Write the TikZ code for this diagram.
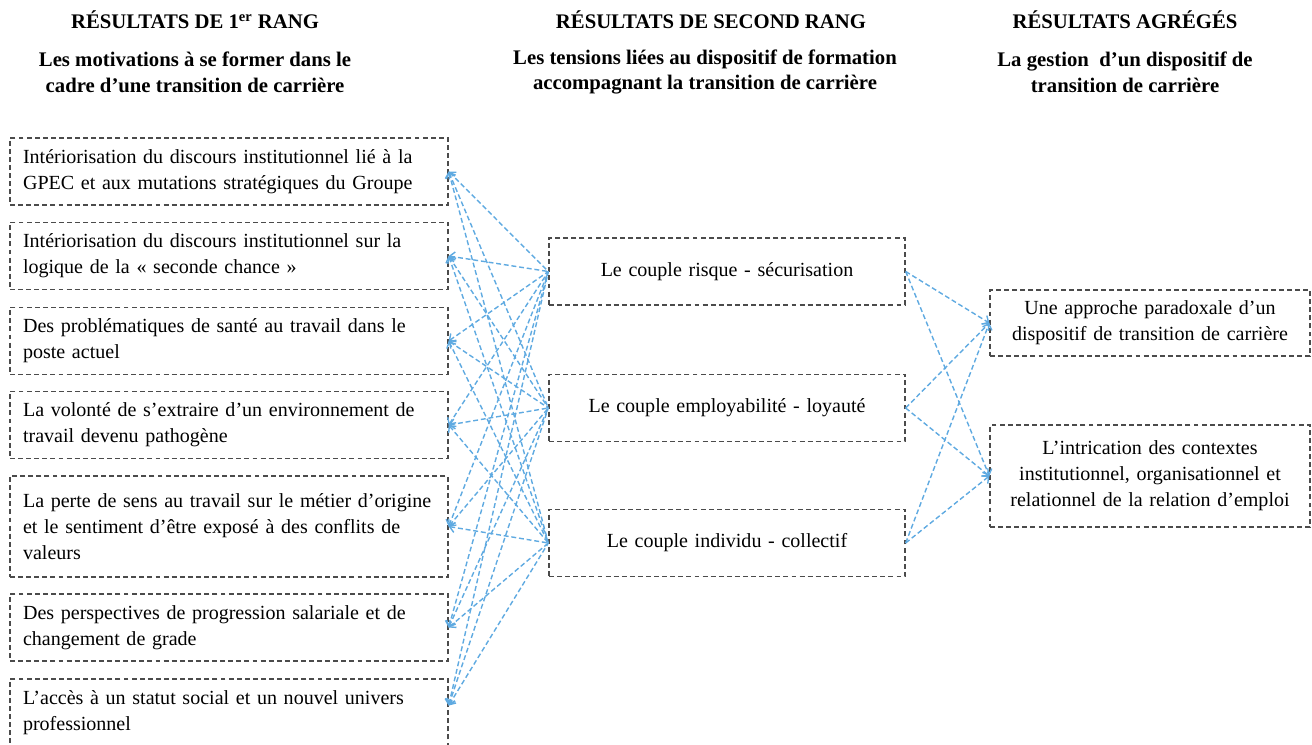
\documentclass[tikz,border=0pt]{standalone}
\usepackage{fontspec}
\setmainfont{Liberation Serif}
\usetikzlibrary{arrows.meta}
\definecolor{lienbleu}{RGB}{95,170,225}
\definecolor{cadregris}{RGB}{75,75,75}
\begin{document}
\begin{tikzpicture}[x=0.02cm, y=-0.02cm,
  cadre/.style={draw=cadregris, line width=0.8pt, dash pattern=on 2.8pt off 1.8pt,
    inner xsep=0.26cm, font=\fontsize{11.4}{14.7}\selectfont},
  gauche/.style={cadre, minimum width=8.76cm, minimum height=1.34cm, text width=8.24cm, align=left},
  milieu/.style={cadre, minimum width=7.12cm, minimum height=1.34cm, text width=6.6cm, align=center},
  droite/.style={cadre, minimum width=6.4cm, minimum height=1.32cm, text width=5.88cm, align=center},
  titre/.style={font=\bfseries\fontsize{11.8}{14}\selectfont},
  soustitre/.style={font=\bfseries\fontsize{11.8}{14.7}\selectfont, align=center},
  lien/.style={draw=lienbleu, line width=0.8pt, dash pattern=on 2.8pt off 1.6pt}]
  \useasboundingbox (0,0) rectangle (1312,744);
  % les titres des trois colonnes
  \node[titre] (t1) at (195,20) {RÉSULTATS DE 1\textsuperscript{er} RANG};
  \node[soustitre] (s1) at (195,72) {Les motivations à se former dans le\\cadre d’une transition de carrière};
  \node[titre] (t2) at (711,20) {RÉSULTATS DE SECOND RANG};
  \node[soustitre] (s2) at (705,72) {Les tensions liées au dispositif de formation\\accompagnant la transition de carrière};
  \node[titre] (t3) at (1125,20) {RÉSULTATS AGRÉGÉS};
  \node[soustitre] (s3) at (1125,72) {La gestion \ d’un dispositif de\\transition de carrière};
  % résultats de premier rang
  \node[gauche] (g1) at (229,171.5) {Intériorisation du discours institutionnel lié à la\\GPEC et aux mutations stratégiques du Groupe};
  \node[gauche] (g2) at (229,256) {Intériorisation du discours institutionnel sur la\\logique de la « seconde chance »};
  \node[gauche] (g3) at (229,341) {Des problématiques de santé au travail dans le\\poste actuel};
  \node[gauche] (g4) at (229,425) {La volonté de s’extraire d’un environnement de\\travail devenu pathogène};
  \node[gauche, minimum height=2.02cm] (g5) at (229,526.5) {La perte de sens au travail sur le métier d’origine\\et le sentiment d’être exposé à des conflits de\\valeurs};
  \node[gauche] (g6) at (229,627.5) {Des perspectives de progression salariale et de\\changement de grade};
  \node[gauche] (g7) at (229,712.5) {L’accès à un statut social et un nouvel univers\\professionnel};
  % résultats de second rang
  \node[milieu] (m1) at (727,271.5) {Le couple risque - sécurisation};
  \node[milieu] (m2) at (727,408) {Le couple employabilité - loyauté};
  \node[milieu] (m3) at (727,543) {Le couple individu - collectif};
  % résultats agrégés
  \node[droite] (d1) at (1150,323) {Une approche paradoxale d’un\\dispositif de transition de carrière};
  \node[droite, minimum height=2.04cm] (d2) at (1150,476) {L’intrication des contextes\\institutionnel, organisationnel et\\relationnel de la relation d’emploi};
  % les liens
  \foreach \g/\dy in {1/0,2/0,3/0,4/0,5/0,6/0,7/0.14} {
    \foreach \m in {1,2,3} {
      \draw[lien, {Straight Barb[length=1mm]}-] ([yshift=\dy cm]g\g.east) -- (m\m.west);
    }
  }
  \foreach \m in {1,2,3} {
    \foreach \d in {1,2} { \draw[lien, -{Straight Barb[length=1mm]}] (m\m.east) -- (d\d.west); }
  }
\end{tikzpicture}
\end{document}
